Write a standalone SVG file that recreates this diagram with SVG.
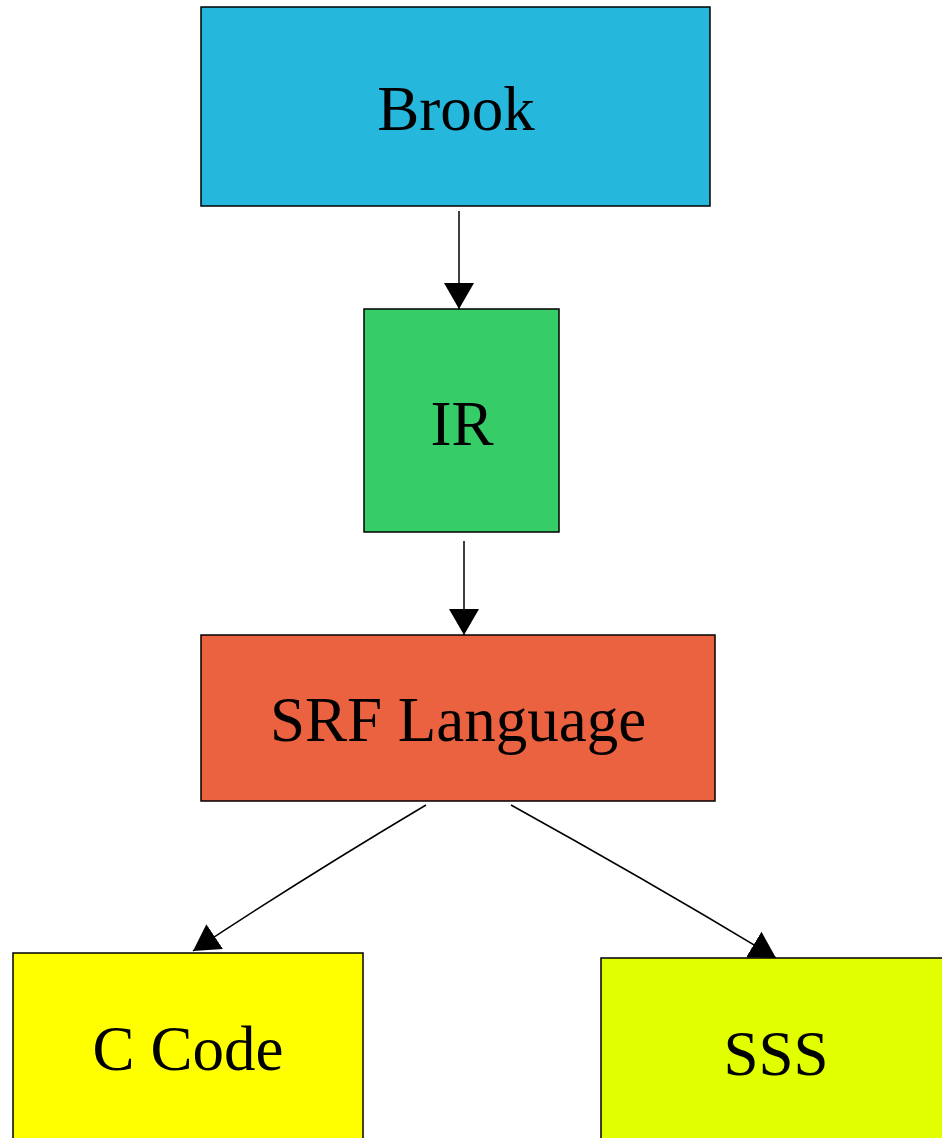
<svg xmlns="http://www.w3.org/2000/svg" width="942" height="1138" viewBox="0 0 942 1138">
  <style>
    .box { stroke: #000; stroke-width: 1.5; }
    .label { font-family: "Liberation Serif", "Times New Roman", serif; font-size: 63px; fill: #000; text-anchor: middle; }
    .edge { fill: none; stroke: #000; stroke-width: 1.5; }
  </style>
  <defs>
    <marker id="arrow" markerUnits="userSpaceOnUse" markerWidth="28" markerHeight="32" refX="26" refY="15" orient="auto">
      <path d="M0,0 L26,15 L0,30 z" fill="#000"/>
    </marker>
  </defs>
  <rect width="942" height="1138" fill="#fff"/>

  <g id="connectors">
    <path class="edge" d="M459,211 L459,309" marker-end="url(#arrow)"/>
    <path class="edge" d="M464,541 L464,635" marker-end="url(#arrow)"/>
    <path class="edge" d="M426,805 Q300,880 193,951" marker-end="url(#arrow)"/>
    <path class="edge" d="M511,805 Q650,882 776,958" marker-end="url(#arrow)"/>
  </g>

  <g id="node-brook">
    <rect class="box" x="201" y="7" width="509" height="199" fill="#25b7dc"/>
    <text class="label" x="456" y="130">Brook</text>
  </g>

  <g id="node-ir">
    <rect class="box" x="364" y="309" width="195" height="223" fill="#36cc68"/>
    <text class="label" x="462" y="445">IR</text>
  </g>

  <g id="node-srf">
    <rect class="box" x="201" y="635" width="514" height="166" fill="#ea6240"/>
    <text class="label" x="458" y="741">SRF Language</text>
  </g>

  <g id="node-ccode">
    <rect class="box" x="13" y="953" width="350" height="200" fill="#ffff00"/>
    <text class="label" x="188" y="1070">C Code</text>
  </g>

  <g id="node-sss">
    <rect class="box" x="601" y="958" width="350" height="200" fill="#e2ff00"/>
    <text class="label" x="776" y="1075">SSS</text>
  </g>
</svg>
